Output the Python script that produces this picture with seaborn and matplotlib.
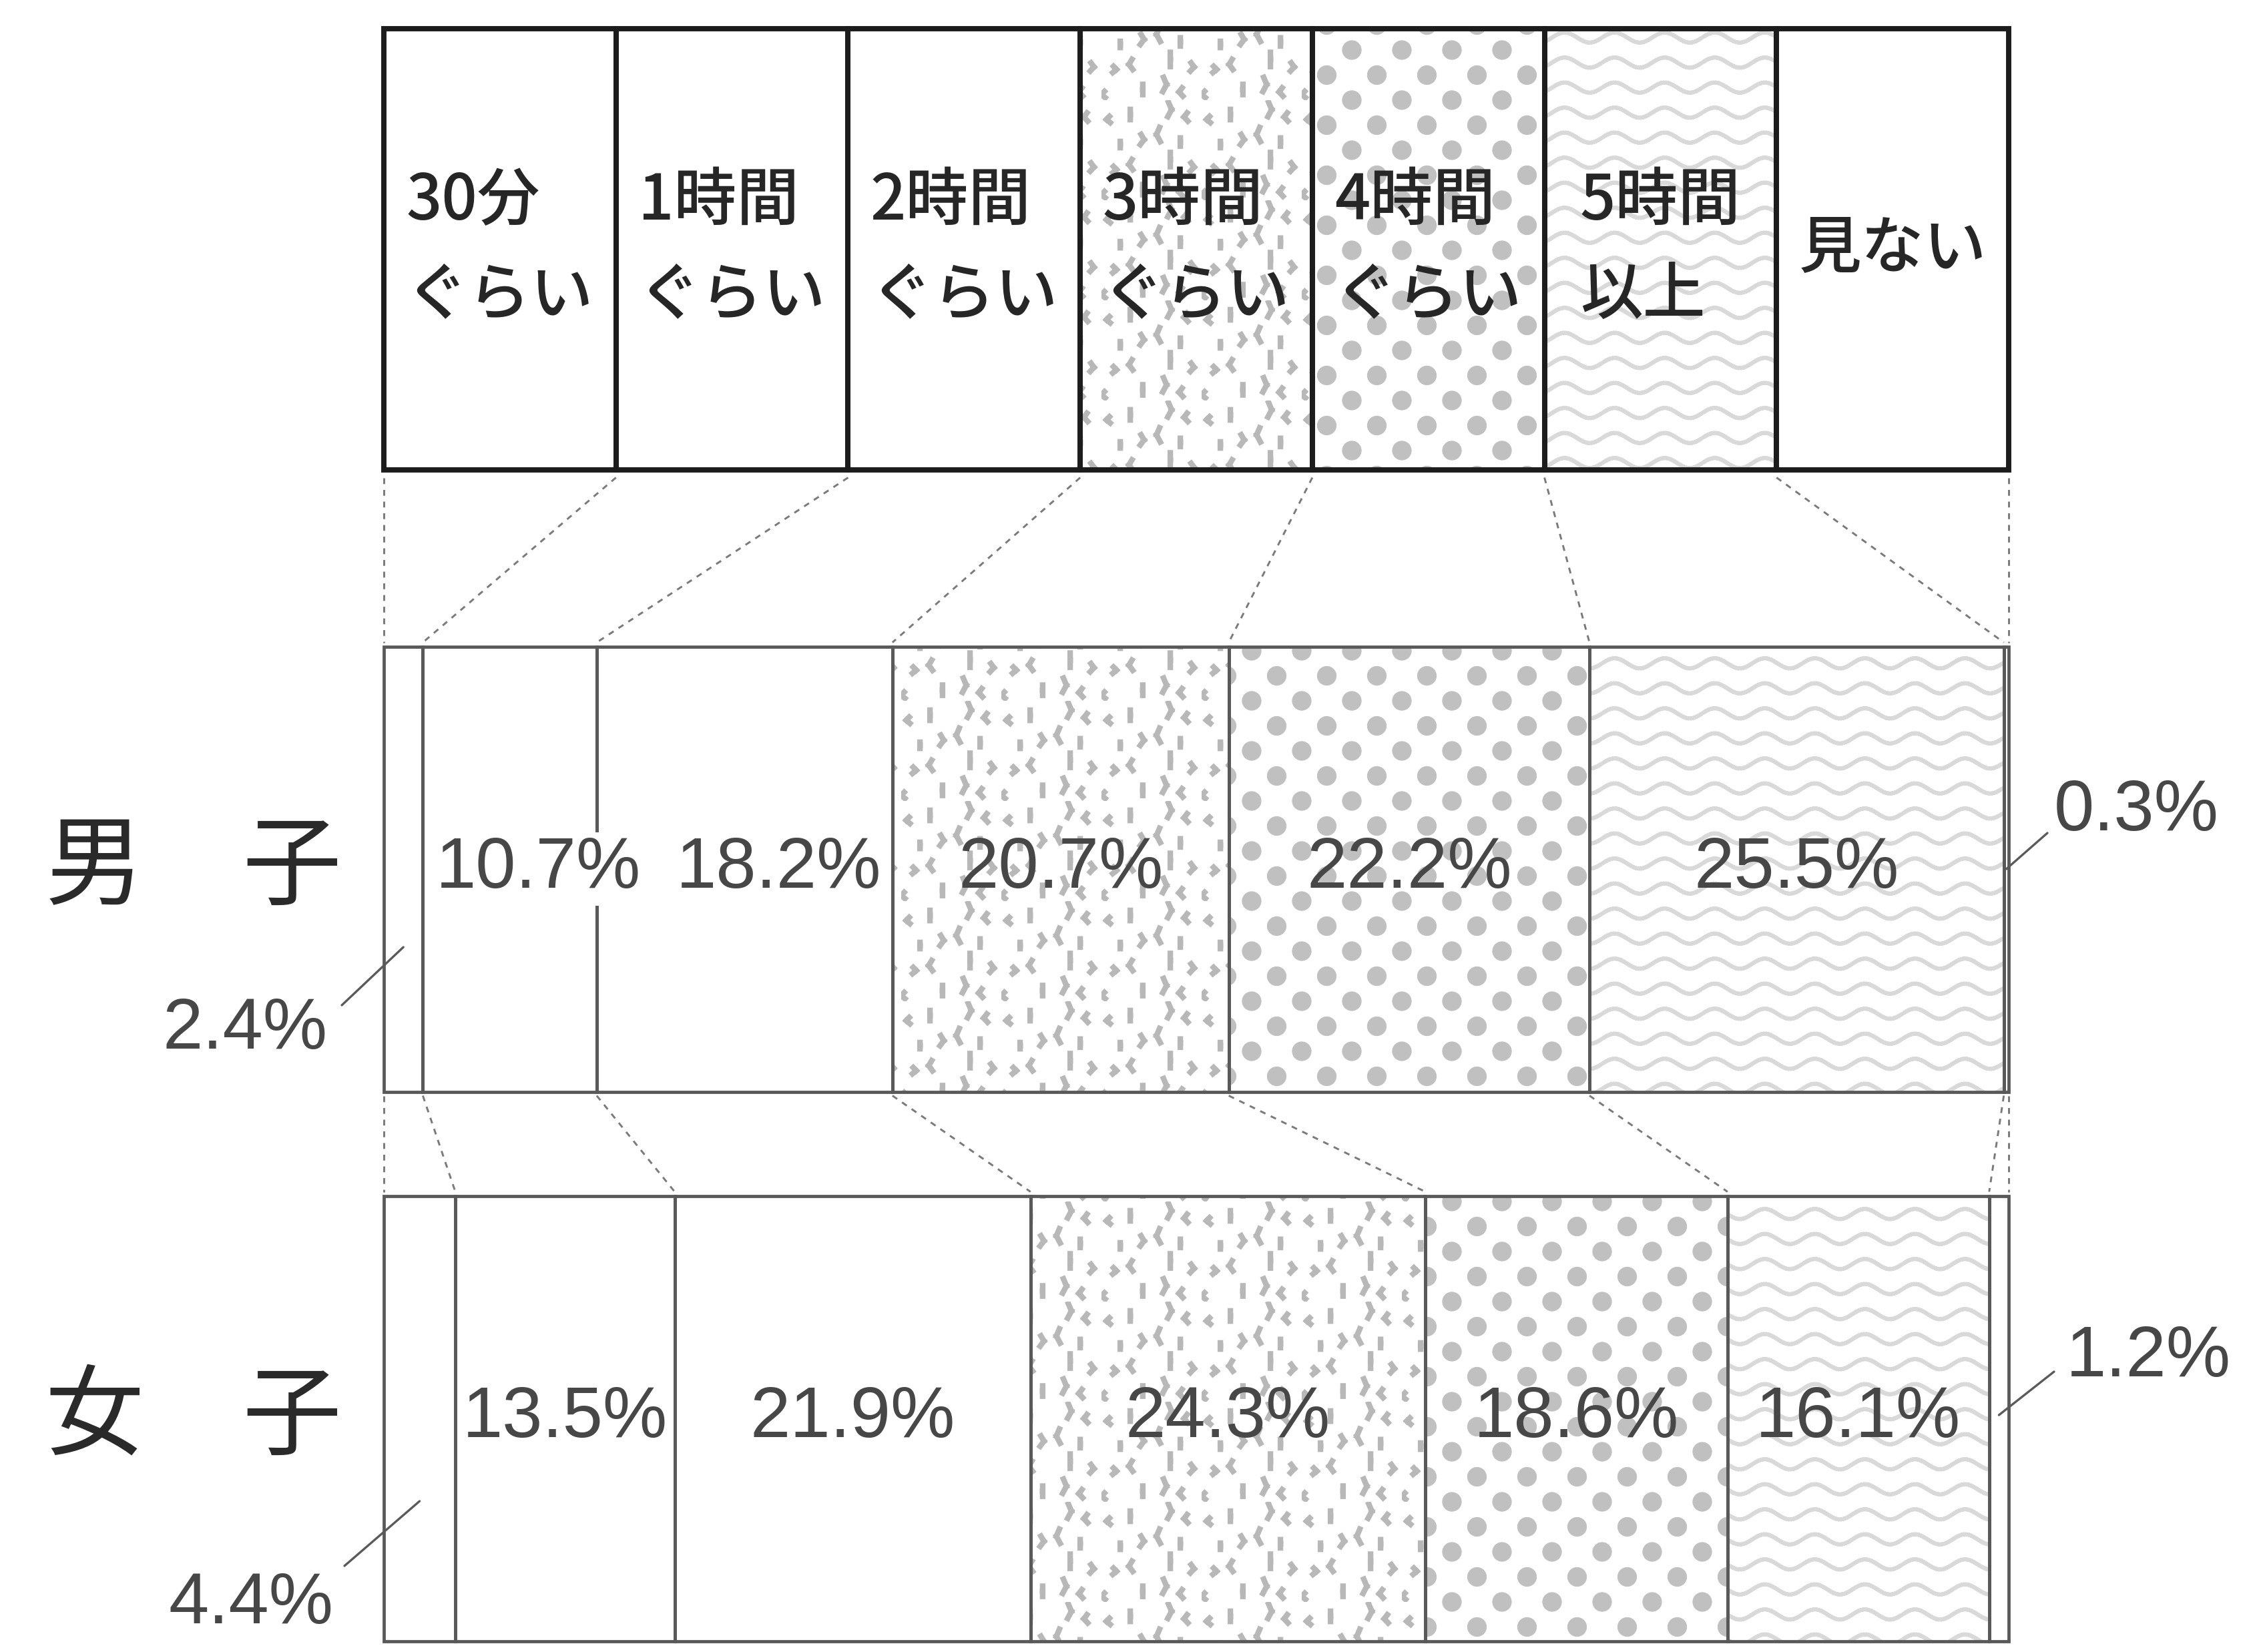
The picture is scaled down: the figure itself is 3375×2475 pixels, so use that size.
import numpy as np
import matplotlib
matplotlib.use("Agg")
import matplotlib.pyplot as plt
import matplotlib.hatch as mhatch
from matplotlib.path import Path
import seaborn as sns

# ---------------- data ----------------
categories = ["30分\nぐらい", "1時間\nぐらい", "2時間\nぐらい", "3時間\nぐらい",
              "4時間\nぐらい", "5時間\n以上", "見ない"]
groups = ["男　子", "女　子"]
male_pct = [2.4, 10.7, 18.2, 20.7, 22.2, 25.5, 0.3]
female_pct = [4.4, 13.5, 21.9, 24.3, 18.6, 16.1, 1.2]

# ---------------- custom textures (styling only) ----------------
class WaveHatch(mhatch.HatchPatternBase):
    segs = 40
    lines_per_unit = 4
    periods = 2
    amp = 0.05

    def __init__(self, hatch, density):
        self.num_lines = (hatch.count('-') + hatch.count('+')) * self.lines_per_unit
        self.num_vertices = self.num_lines * self.segs * 2

    def set_vertices_and_codes(self, vertices, codes):
        t = np.linspace(0.0, 1.0, self.segs + 1)
        k = 0
        for i in range(self.num_lines):
            y0 = (i + 0.5) / self.num_lines
            y = y0 + self.amp * np.sin(2 * np.pi * self.periods * t)
            for s in range(self.segs):
                vertices[k] = (t[s], y[s])
                vertices[k + 1] = (t[s + 1], y[s + 1])
                codes[k] = Path.MOVETO
                codes[k + 1] = Path.LINETO
                k += 2


class StippleHatch(mhatch.HatchPatternBase):
    grid = 4

    def __init__(self, hatch, density):
        c = hatch.count('|') + hatch.count('+')
        self.n = self.grid if c else 0
        self.num_vertices = self.n * self.n * 4

    def set_vertices_and_codes(self, vertices, codes):
        n = self.n
        k = 0
        for i in range(n):
            for j in range(n):
                a = ((i * 5 + j * 3) % 7) / 7.0
                b = ((i * 2 + j * 5) % 5) / 5.0
                x0 = (i + 0.15 + 0.7 * a) / n
                y0 = (j + 0.1 + 0.3 * b) / n
                L = (0.25 + 0.4 * b) / n
                dx = (0.15 * (((i + 2 * j) % 3) - 1)) / n
                pts = [(x0, y0), (x0 + dx, y0 + L * 0.5), (x0 + dx * 0.2, y0 + L)]
                for s in range(2):
                    vertices[k] = pts[s]
                    vertices[k + 1] = pts[s + 1]
                    codes[k] = Path.MOVETO
                    codes[k + 1] = Path.LINETO
                    k += 2


class DotHatch(mhatch.HatchPatternBase):
    rows = 4
    radius = 0.094

    def __init__(self, hatch, density):
        circ = Path.unit_circle()
        self.cv, self.cc = circ.vertices, circ.codes
        self.centers = []
        if hatch.count('.'):
            m = self.rows // 2
            for j in range(self.rows + 1):
                y = j / self.rows
                if j % 2 == 0:
                    xs = [i / m for i in range(m + 1)]
                else:
                    xs = [(i + 0.5) / m for i in range(m)]
                self.centers += [(x, y) for x in xs]
        self.num_vertices = len(self.centers) * len(self.cv)

    def set_vertices_and_codes(self, vertices, codes):
        n = len(self.cv)
        for idx, (x, y) in enumerate(self.centers):
            vertices[idx * n:(idx + 1) * n] = self.cv * self.radius + np.array([x, y])
            codes[idx * n:(idx + 1) * n] = self.cc


_swap = {mhatch.HorizontalHatch: WaveHatch,
         mhatch.VerticalHatch: StippleHatch,
         mhatch.SmallFilledCircles: DotHatch}
mhatch._hatch_types = [_swap.get(h, h) for h in mhatch._hatch_types]

# ---------------- style ----------------
sns.set_theme(style="white")
plt.rcParams['font.family'] = ['Noto Sans CJK JP', 'DejaVu Sans']

hatches = [None, None, None, '|', '.', '-', None]
hatch_colors = ['white', 'white', 'white', '#b8b8b8', '#c0c0c0', '#d9d9d9', 'white']
hatch_lws = [1.0, 1.0, 1.0, 4.0, 0.5, 2.8, 1.0]

W_PX, H_PX = 3375, 2475
X0_PX, X1_PX = 575, 3009
scale = (X1_PX - X0_PX) / 100.0

LEG_Y, LEG_H = 373, 661
ROW_Y = [1302, 2125]
ROW_H = 667

fig = plt.figure(figsize=(W_PX / 150, H_PX / 150), dpi=150)
fig.patch.set_facecolor('white')
ax = fig.add_axes([0, 0, 1, 1])
ax.set_facecolor('white')


def seg(ypos, value, left, height, **kw):
    sns.barplot(x=[value], y=[ypos], orient="y", native_scale=True,
                width=height, errorbar=None, ax=ax, color='white',
                saturation=1, left=left, **kw)
    return ax.patches[-1]


n_cat = len(categories)
leg_w = 100.0 / n_cat
leg_edges = np.arange(n_cat + 1) * leg_w

# legend row: fills
for k in range(n_cat):
    p = seg(LEG_Y, leg_w, leg_edges[k], LEG_H, facecolor='white',
            edgecolor=hatch_colors[k], linewidth=0, hatch=hatches[k])
    if hasattr(p, 'set_hatch_linewidth'):
        p.set_hatch_linewidth(hatch_lws[k])

rows = [male_pct, female_pct]
cums = []
for r, vals in enumerate(rows):
    c = np.concatenate([[0], np.cumsum(vals)])
    cums.append(c)
    for k, v in enumerate(vals):
        p = seg(ROW_Y[r], v, c[k], ROW_H, facecolor='white',
                edgecolor=hatch_colors[k], linewidth=0, hatch=hatches[k])
        if hasattr(p, 'set_hatch_linewidth'):
            p.set_hatch_linewidth(hatch_lws[k])

# outlines
for k in range(n_cat):
    seg(LEG_Y, leg_w, leg_edges[k], LEG_H, facecolor='none',
        edgecolor='#1c1c1c', linewidth=3.8)
for r, vals in enumerate(rows):
    for k, v in enumerate(vals):
        seg(ROW_Y[r], v, cums[r][k], ROW_H, facecolor='none',
            edgecolor='#595959', linewidth=2.3)

# legend texts
for k, lab in enumerate(categories):
    ax.text(leg_edges[k] + leg_w / 2, LEG_Y, lab, ha='center', va='center',
            multialignment='left', fontsize=45, fontweight='medium',
            color='#262626', linespacing=1.62, zorder=5)

# dashed connectors
dash = dict(color='#7a7a7a', lw=1.4, ls=(0, (3, 3)), zorder=4)
top_y = LEG_Y + LEG_H / 2 + 12
bot_y = ROW_Y[0] - ROW_H / 2 - 6
for k in range(n_cat + 1):
    ax.plot([leg_edges[k], cums[0][k]], [top_y, bot_y], **dash)
top_y = ROW_Y[0] + ROW_H / 2 + 6
bot_y = ROW_Y[1] - ROW_H / 2 - 6
for k in range(n_cat + 1):
    ax.plot([cums[0][k], cums[1][k]], [top_y, bot_y], **dash)

# group labels
gx = (290 - X0_PX) / scale
for r, g in enumerate(groups):
    ax.text(gx, ROW_Y[r], g, ha='center', va='center', fontsize=71,
            color='#2a2a2a', zorder=5)

# percentage labels
pct_font = dict(family=['Liberation Sans', 'DejaVu Sans'],
                fontsize=52, color='#474747', zorder=6)
inside = [[1, 2, 3, 4, 5], [1, 2, 3, 4, 5]]
nudge = [{1: 1.75, 2: 2.1}, {}]
for r, vals in enumerate(rows):
    c = cums[r]
    for k in inside[r]:
        xc = (c[k] + c[k + 1]) / 2 + nudge[r].get(k, 0)
        bbox = None
        if r == 0 and hatches[k] is None:
            bbox = dict(boxstyle='square,pad=0.05', fc='white', ec='none')
        ax.text(xc, ROW_Y[r], f"{vals[k]:.1f}%", ha='center', va='center',
                bbox=bbox, **pct_font)

# outside labels with leader lines (layout offsets in px)
outside = [
    # row, cat, leader start dy, leader end (px x, px dy), text (px x, px dy, ha)
    (0, 0, 117, (512, 204), (491, 241, 'right')),
    (0, 6, 0, (3067, -54), (3077, -86, 'left')),
    (1, 0, 124, (516, 221), (499, 279, 'right')),
    (1, 6, -5, (3077, -70), (3095, -91, 'left')),
]
for r, k, sdy, (ex, edy), (tx, tdy, ha) in outside:
    c = cums[r]
    xs = (c[k] + c[k + 1]) / 2
    ax.plot([xs, (ex - X0_PX) / scale], [ROW_Y[r] + sdy, ROW_Y[r] + edy],
            color='#5a5a5a', lw=1.6, zorder=6)
    ax.text((tx - X0_PX) / scale, ROW_Y[r] + tdy, f"{rows[r][k]:.1f}%",
            ha=ha, va='center', **pct_font)

ax.set_xlim(-X0_PX / scale, (W_PX - X0_PX) / scale)
ax.set_ylim(H_PX, 0)
ax.axis('off')

fig.savefig("out.png", dpi=150, facecolor='white')
